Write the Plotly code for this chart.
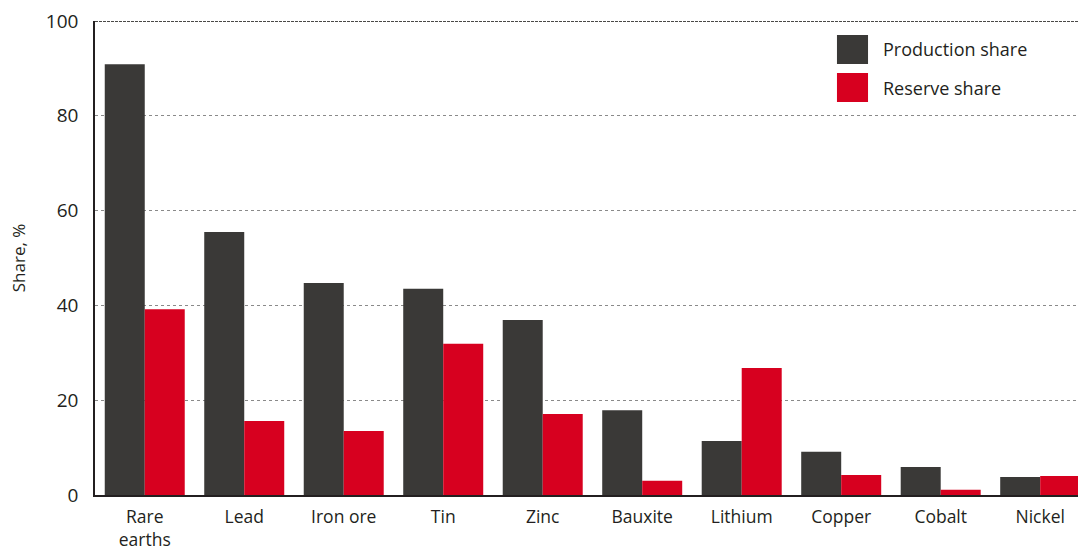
import plotly.graph_objects as go

categories = ["Rare<br>earths", "Lead", "Iron ore", "Tin", "Zinc", "Bauxite",
              "Lithium", "Copper", "Cobalt", "Nickel"]
production_share = [90.9, 55.5, 44.7, 43.5, 36.9, 17.9, 11.4, 9.1, 5.9, 3.8]
reserve_share = [39.2, 15.6, 13.5, 31.9, 17.1, 3.0, 26.8, 4.2, 1.1, 4.0]
series_names = ["Production share", "Reserve share"]
series_colors = ["#3a3937", "#d7001f"]
y_ticks = [0, 20, 40, 60, 80, 100]

FONT = "Open Sans"
TXT = "#231f20"

fig = go.Figure()
for name, vals, col in zip(series_names, [production_share, reserve_share], series_colors):
    fig.add_trace(go.Bar(x=list(range(len(categories))), y=vals, name=name,
                         marker=dict(color=col, line=dict(width=0)), showlegend=False))

fig.update_layout(
    width=1078, height=549,
    margin=dict(l=95, r=0, t=21, b=54),
    paper_bgcolor="white", plot_bgcolor="white",
    barmode="group", bargap=0.196, bargroupgap=0,
    font=dict(family=FONT, color=TXT, size=18),
    xaxis=dict(tickmode="array", tickvals=list(range(len(categories))), ticktext=categories,
               range=[-0.5, 9.38], showgrid=False, showline=True, linecolor=TXT, linewidth=1.5,
               ticks="", tickfont=dict(size=17.5, color=TXT), ticklabelstandoff=5,
               automargin=False),
    yaxis=dict(range=[0, 100], tickvals=y_ticks, showgrid=True, gridcolor="#8a8a8a",
               griddash="dot", gridwidth=1, showline=True, linecolor=TXT, linewidth=1.5,
               zeroline=False, ticks="", tickfont=dict(size=19, color=TXT),
               ticklabelstandoff=11, automargin=False,
               title=dict(text="Share, %", font=dict(size=17, color=TXT), standoff=16)),
)

# dark dashed top border at 100
fig.add_shape(type="line", xref="paper", yref="y", x0=0, x1=1, y0=100, y1=100,
              line=dict(color="#4a4947", width=2, dash="3px,1px"))

# legend drawn as squares + labels
legend_y = [(0.9093, 0.9705), (0.8291, 0.8903)]
for (y0, y1), name, col in zip(legend_y, series_names, series_colors):
    fig.add_shape(type="rect", xref="paper", yref="paper", x0=0.7548, x1=0.7864,
                  y0=y0, y1=y1, fillcolor=col, line=dict(width=0))
    fig.add_annotation(xref="paper", yref="paper", x=0.8000, y=(y0 + y1) / 2,
                       text=name, showarrow=False, xanchor="left", yanchor="middle",
                       font=dict(size=18, color=TXT, family=FONT))

fig.write_html("out.html", config={"displayModeBar": False},
               post_script="document.body.style.margin='0';document.body.style.padding='0';document.body.style.overflow='hidden';")
